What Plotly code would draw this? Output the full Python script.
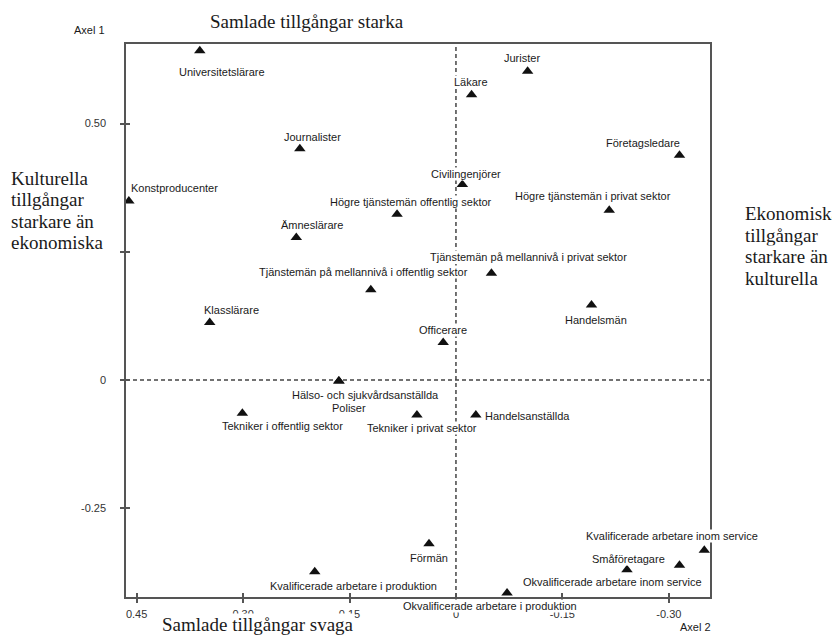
import plotly.graph_objects as go

# ---------------- data ----------------
occupations = [
    "Universitetslärare", "Journalister", "Läkare", "Jurister", "Företagsledare",
    "Konstproducenter", "Civilingenjörer", "Högre tjänstemän offentlig sektor",
    "Högre tjänstemän i privat sektor", "Ämneslärare",
    "Tjänstemän på mellannivå i privat sektor",
    "Tjänstemän på mellannivå i offentlig sektor", "Handelsmän", "Klasslärare",
    "Officerare", "Hälso- och sjukvårdsanställda", "Poliser",
    "Tekniker i offentlig sektor", "Tekniker i privat sektor", "Handelsanställda",
    "Förmän", "Kvalificerade arbetare i produktion",
    "Okvalificerade arbetare i produktion", "Småföretagare",
    "Okvalificerade arbetare inom service", "Kvalificerade arbetare inom service",
]
axel2 = [0.361, 0.220, -0.022, -0.101, -0.315,
         0.461, -0.009, 0.083,
         -0.216, 0.225,
         -0.050,
         0.120, -0.191, 0.347,
         0.018, 0.165, 0.165,
         0.301, 0.055, -0.028,
         0.038, 0.199,
         -0.072, -0.241,
         -0.315, -0.350]
axel1 = [0.642, 0.451, 0.556, 0.602, 0.438,
         0.349, 0.381, 0.323,
         0.331, 0.278,
         0.208,
         0.176, 0.146, 0.112,
         0.073, -0.002, -0.002,
         -0.065, -0.068, -0.068,
         -0.319, -0.374,
         -0.415, -0.370,
         -0.361, -0.332]

xtick_vals = [0.45, 0.30, 0.15, 0.0, -0.15, -0.30]
xtick_text = ["0.45", "0.30", "0.15", "0", "-0.15", "-0.30"]
ytick_vals = [0.50, 0.25, 0.0, -0.25]
ytick_text = ["0.50", "", "0", "-0.25"]

# ---------------- label placement (pixels: dx right, dy down) ----------------
label_dx = [22, 13, -1, -6, -36,
            46, 4, 14,
            -16, 16,
            37,
            -7, 4, 22,
            0, 27, 10,
            40, 5, 8,
            0, 39,
            -17, 2,
            -67, -32]
label_dy = [21, -12, -13, -13, -12,
            -13, -11, -12,
            -14, -12,
            -16,
            -18, 15, -13,
            -13, 14, 27,
            13, 13, 1,
            14, 14,
            13, -11,
            17, -14]
label_anchor = ["center"] * len(occupations)
label_anchor[occupations.index("Handelsanställda")] = "left"

XR = [0.465, -0.358]
YR = [-0.423, 0.655]
AXC = "#555555"
TXT = "#1a1a1a"
SANS = "Arial, Liberation Sans, sans-serif"
SERIF = "Times New Roman, Liberation Serif, serif"

fig = go.Figure()
fig.add_trace(go.Scatter(
    x=axel2, y=axel1, mode="markers", text=occupations,
    marker=dict(symbol="triangle-up", size=10, color="#111111"),
    hoverinfo="text", showlegend=False,
))
# invisible trace for the overlay axes (inside tick halves)
fig.add_trace(go.Scatter(x=[], y=[], xaxis="x2", yaxis="y2", showlegend=False))

annotations = []
for name, xv, yv, dx, dy, anc in zip(occupations, axel2, axel1, label_dx, label_dy, label_anchor):
    annotations.append(dict(
        x=xv, y=yv, xref="x", yref="y", text=name, showarrow=False,
        xanchor=anc, yanchor="middle", xshift=dx, yshift=-dy,
        font=dict(family=SANS, size=11, color=TXT),
        bgcolor="white", borderpad=0,
    ))

def ptext(text, x, y, size, family, xanchor="center"):
    return dict(text=text, x=x, y=y, xref="paper", yref="paper",
                xanchor=xanchor, yanchor="middle", showarrow=False,
                font=dict(family=family, size=size, color=TXT),
                bgcolor="white", borderpad=0)

# page has an 8px body margin; figure is sized so the plot area lands on
# page pixels left 126, right 710, top 44, bottom 597
OFF = 8
W, H = 840 - OFF, 635 - OFF
L, R, T, B = 126 - OFF, 130, 44 - OFF, 38
pw, ph = W - L - R, H - T - B
def px(xp):
    return (xp - OFF - L) / pw
def py(yp):
    return (H - B - (yp - OFF)) / ph

annotations.append(ptext("Samlade tillgångar starka", px(307), py(21.5), 19, SERIF))
annotations.append(ptext("Samlade tillgångar svaga", px(257.5), py(624), 19, SERIF))
annotations.append(ptext("Axel 1", px(89), py(30), 11, SANS))
annotations.append(ptext("Axel 2", px(695), py(627), 11, SANS))
for i, line in enumerate(["Kulturella", "tillgångar", "starkare än", "ekonomiska"]):
    annotations.append(ptext(line, px(10), py(178 + i * 21.5), 19, SERIF, xanchor="left"))
for i, line in enumerate(["Ekonomiska", "tillgångar", "starkare än", "kulturella"]):
    annotations.append(ptext(line, px(744), py(213.5 + i * 21.5), 19, SERIF, xanchor="left"))

shapes = [
    dict(type="line", xref="x", yref="paper", x0=0, x1=0, y0=0, y1=1,
         line=dict(color="#444444", width=1.5, dash="4px,3px"), layer="below"),
    dict(type="line", xref="paper", yref="y", x0=0, x1=1, y0=0, y1=0,
         line=dict(color="#444444", width=1.5, dash="4px,3px"), layer="below"),
]

axis_common = dict(showgrid=False, zeroline=False, showline=True, linecolor=AXC,
                   linewidth=1.5, mirror=True, ticks="outside", ticklen=4,
                   tickcolor=AXC, tickwidth=1.5,
                   tickfont=dict(family=SANS, size=11, color="#333333"))

fig.update_layout(
    width=W, height=H,
    margin=dict(l=L, r=R, t=T, b=B, pad=0),
    paper_bgcolor="white", plot_bgcolor="white",
    xaxis=dict(range=XR, tickmode="array", tickvals=xtick_vals, ticktext=xtick_text,
               ticklabelstandoff=2, **axis_common),
    yaxis=dict(range=YR, tickmode="array", tickvals=ytick_vals, ticktext=ytick_text,
               ticklabelstandoff=12, **axis_common),
    xaxis2=dict(range=XR, overlaying="x", anchor="y2", side="bottom",
                tickmode="array", tickvals=xtick_vals, ticks="inside", ticklen=4,
                tickcolor=AXC, tickwidth=1.5, showticklabels=False,
                showgrid=False, zeroline=False, showline=False),
    yaxis2=dict(range=YR, overlaying="y", anchor="x2", side="left",
                tickmode="array", tickvals=ytick_vals, ticks="inside", ticklen=4,
                tickcolor=AXC, tickwidth=1.5, showticklabels=False,
                showgrid=False, zeroline=False, showline=False),
    annotations=annotations,
    shapes=shapes,
    showlegend=False,
)

fig.write_html("out.html")
